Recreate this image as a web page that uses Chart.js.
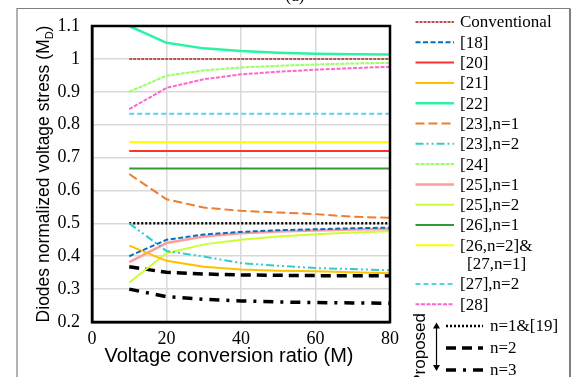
<!DOCTYPE html>
<html><head><meta charset="utf-8">
<script src="https://cdn.jsdelivr.net/npm/chart.js@4"></script>
<style>html,body{margin:0;padding:0;background:#fff;}canvas{display:block;}</style>
</head><body>
<canvas id="c" width="579" height="377"></canvas>
<script>
const xValues = [10,20,30,40,50,60,70,80];
const xTicks = [0,20,40,60,80];
const yTicks = [0.2,0.3,0.4,0.5,0.6,0.7,0.8,0.9,1,1.1];
const yTickLabels = ['0.2','0.3','0.4','0.5','0.6','0.7','0.8','0.9','1','1.1'];
const xTitle = 'Voltage conversion ratio (M)';
const yTitle = 'Diodes normalized voltage stress (M';
const yTitleSub = 'D';
const panelLabel = '(a)';
const proposedLabel = 'Proposed';

const seriesLabels = ['Conventional','[18]','[20]','[21]','[22]','[23],n=1','[23],n=2','[24]','[25],n=1','[25],n=2','[26],n=1','[26,n=2]&\n[27,n=1]','[27],n=2','[28]'];
const proposedLabels = ['n=1&[19]','n=2','n=3'];

const conventional = [1,1,1,1,1,1,1,1];
const ref18 = [0.400,0.450,0.466,0.474,0.479,0.482,0.485,0.487];
const ref20 = [0.720,0.720,0.720,0.720,0.720,0.720,0.720,0.720];
const ref21 = [0.432,0.386,0.368,0.360,0.356,0.354,0.351,0.348];
const ref22 = [1.100,1.049,1.032,1.024,1.019,1.016,1.014,1.013];
const ref23n1 = [0.650,0.573,0.548,0.538,0.533,0.528,0.520,0.517];
const ref23n2 = [0.500,0.416,0.399,0.379,0.371,0.364,0.361,0.357];
const ref24 = [0.900,0.949,0.965,0.974,0.979,0.983,0.986,0.988];
const ref25n1 = [0.382,0.440,0.460,0.470,0.475,0.478,0.481,0.483];
const ref25n2 = [0.320,0.409,0.436,0.450,0.460,0.467,0.472,0.476];
const ref26n1 = [0.667,0.667,0.667,0.667,0.667,0.667,0.667,0.667];
const ref26n2ref27n1 = [0.747,0.747,0.747,0.747,0.747,0.747,0.747,0.747];
const ref27n2 = [0.833,0.833,0.833,0.833,0.833,0.833,0.833,0.833];
const ref28 = [0.847,0.912,0.938,0.953,0.961,0.967,0.972,0.976];
const propN1 = [0.500,0.500,0.500,0.500,0.500,0.500,0.500,0.500];
const propN2 = [0.368,0.351,0.346,0.343,0.342,0.341,0.341,0.341];
const propN3 = [0.300,0.277,0.269,0.264,0.261,0.259,0.258,0.257];

const seriesValues = [conventional,ref18,ref20,ref21,ref22,ref23n1,ref23n2,ref24,ref25n1,ref25n2,ref26n1,ref26n2ref27n1,ref27n2,ref28];
const proposedValues = [propN1,propN2,propN3];

const seriesStyles = [
  {c:'#C0504D', w:2, d:[3,1]},
  {c:'#0070C0', w:2, d:[5,2.5]},
  {c:'#FF3030', w:2, d:[]},
  {c:'#FFC000', w:2, d:[]},
  {c:'#2CF2A6', w:2.5, d:[]},
  {c:'#ED7D31', w:2, d:[9,4]},
  {c:'#33CCCC', w:2, d:[8,3,2,3,2,3]},
  {c:'#99FF66', w:2, d:[4,1]},
  {c:'#FF9C9C', w:2.5, d:[]},
  {c:'#CCFF33', w:2, d:[]},
  {c:'#339933', w:2, d:[]},
  {c:'#FFFF00', w:2, d:[]},
  {c:'#55D5E8', w:2, d:[5,3]},
  {c:'#FF66CC', w:2, d:[4,1.5]}
];
const proposedStyles = [
  {c:'#000000', w:2.5, d:[2,2]},
  {c:'#000000', w:3.5, d:[10,6]},
  {c:'#000000', w:3.5, d:[10,7,3,7]}
];

function mk(label, vals, st, group){
  return {label, data: vals.map((v,i)=>({x:xValues[i], y:v})), borderColor: st.c, backgroundColor: st.c,
    borderWidth: st.w, borderDash: st.d, pointRadius:0, tension:0, fill:false, group};
}
const datasets = [];
seriesLabels.forEach((l,i)=>datasets.push(mk(l, seriesValues[i], seriesStyles[i], 'ref')));
proposedLabels.forEach((l,i)=>datasets.push(mk(l, proposedValues[i], proposedStyles[i], 'prop')));

const SERIF = '"Liberation Serif", "Times New Roman", serif';
const SANS = '"Liberation Sans", Arial, sans-serif';

const decor = {
  id:'decor',
  beforeDraw(chart){
    const ctx = chart.ctx;
    ctx.save();
    ctx.fillStyle = '#fff';
    ctx.fillRect(0,0,chart.width,chart.height);
    ctx.strokeStyle = '#808080';
    ctx.lineWidth = 1.2;
    ctx.beginPath();
    ctx.moveTo(17,400); ctx.lineTo(17,8.5); ctx.lineTo(570,8.5);
    ctx.stroke();
    ctx.lineWidth = 2;
    ctx.beginPath(); ctx.moveTo(570,8.5); ctx.lineTo(570,400); ctx.stroke();
    ctx.fillStyle = '#000';
    ctx.font = '17px ' + SERIF;
    ctx.textAlign = 'center';
    ctx.textBaseline = 'alphabetic';
    ctx.fillText(panelLabel, 295, 1);
    ctx.restore();
  },
  afterDraw(chart){
    const ctx = chart.ctx;
    const a = chart.chartArea;
    ctx.save();
    // plot box
    ctx.strokeStyle = '#000';
    ctx.lineWidth = 2.5;
    ctx.setLineDash([]);
    ctx.strokeRect(a.left, a.top, a.right - a.left, a.bottom - a.top);
    // x title
    ctx.fillStyle = '#000';
    ctx.font = '20px ' + SANS;
    ctx.textAlign = 'center';
    ctx.textBaseline = 'alphabetic';
    ctx.fillText(xTitle, 229, 362);
    // y title with subscript
    ctx.save();
    ctx.translate(49, 174);
    ctx.rotate(-Math.PI/2);
    ctx.textAlign = 'left';
    ctx.font = '17.5px ' + SANS;
    const w1 = ctx.measureText(yTitle).width;
    const w3 = ctx.measureText(')').width;
    ctx.font = '11px ' + SANS;
    const w2 = ctx.measureText(yTitleSub).width;
    let x0 = -(w1+w2+w3)/2;
    ctx.font = '17.5px ' + SANS;
    ctx.fillText(yTitle, x0, 0);
    ctx.font = '11px ' + SANS;
    ctx.fillText(yTitleSub, x0 + w1, 3.5);
    ctx.font = '17.5px ' + SANS;
    ctx.fillText(')', x0 + w1 + w2, 0);
    ctx.restore();

    // legend
    ctx.font = '17px ' + SERIF;
    ctx.textAlign = 'left';
    ctx.textBaseline = 'middle';
    const ds = chart.data.datasets;
    let y = 22;
    let ri = 0;
    const prop = [];
    ds.forEach(d => {
      if (d.group !== 'ref') { prop.push(d); return; }
      ctx.strokeStyle = d.borderColor;
      ctx.lineWidth = d.borderWidth;
      ctx.setLineDash(d.borderDash);
      ctx.beginPath(); ctx.moveTo(415.5, y); ctx.lineTo(454, y); ctx.stroke();
      ctx.setLineDash([]);
      const lines = d.label.split('\n');
      ctx.fillStyle = '#000';
      ctx.fillText(lines[0], 460, y + 1);
      let extra = 0;
      if (lines.length > 1) { ctx.fillText(lines[1], 467, y + 19); extra = 18.4; }
      y += 20.3 + extra;
      ri++;
    });
    // proposed group
    const py = [326, 348, 370];
    prop.forEach((d,i) => {
      ctx.strokeStyle = d.borderColor;
      ctx.lineWidth = d.borderWidth;
      ctx.setLineDash(d.borderDash);
      ctx.beginPath(); ctx.moveTo(446, py[i]); ctx.lineTo(483, py[i]); ctx.stroke();
      ctx.setLineDash([]);
      ctx.fillStyle = '#000';
      ctx.fillText(d.label, 490, py[i] + 1);
    });
    // arrow
    ctx.strokeStyle = '#000';
    ctx.fillStyle = '#000';
    ctx.lineWidth = 1.2;
    ctx.beginPath(); ctx.moveTo(436.5, 327); ctx.lineTo(436.5, 367); ctx.stroke();
    ctx.beginPath(); ctx.moveTo(436.5, 322.5); ctx.lineTo(433, 328.5); ctx.lineTo(440, 328.5); ctx.closePath(); ctx.fill();
    ctx.beginPath(); ctx.moveTo(436.5, 371); ctx.lineTo(433, 365); ctx.lineTo(440, 365); ctx.closePath(); ctx.fill();
    // Proposed rotated
    ctx.save();
    ctx.translate(424.5, 313);
    ctx.rotate(-Math.PI/2);
    ctx.font = '17px ' + SANS;
    ctx.textAlign = 'right';
    ctx.textBaseline = 'alphabetic';
    ctx.fillText(proposedLabel, 0, 0);
    ctx.restore();
    ctx.restore();
  }
};

new Chart(document.getElementById('c'), {
  type:'line',
  data:{datasets},
  options:{
    responsive:false,
    animation:false,
    devicePixelRatio:1,
    layout:{padding:{left:0, right:189, top:26, bottom:0}},
    plugins:{legend:{display:false}, tooltip:{enabled:false}, title:{display:false}},
    scales:{
      x:{
        type:'linear', min:0, max:80,
        afterBuildTicks: s => { s.ticks = xTicks.map(v => ({value:v})); },
        afterFit: s => { s.height = 55; },
        ticks:{font:{family:SERIF, size:18}, color:'#000', padding:6, maxRotation:0, autoSkip:false,
          callback: v => String(v)},
        grid:{color:'#D9D9D9', lineWidth:1.5, drawTicks:false},
        border:{color:'#000', width:2.5}
      },
      y:{
        type:'linear', min:0.2, max:1.1,
        afterBuildTicks: s => { s.ticks = yTicks.map(v => ({value:v})); },
        afterFit: s => { s.width = 92; },
        ticks:{font:{family:SERIF, size:18}, color:'#000', padding:12, autoSkip:false,
          callback: v => { const i = yTicks.findIndex(t => Math.abs(t - v) < 1e-9); return i >= 0 ? yTickLabels[i] : ''; }},
        grid:{color:'#D9D9D9', lineWidth:1.5, drawTicks:false},
        border:{color:'#000', width:2.5}
      }
    }
  },
  plugins:[decor]
});
</script>
</body></html>
